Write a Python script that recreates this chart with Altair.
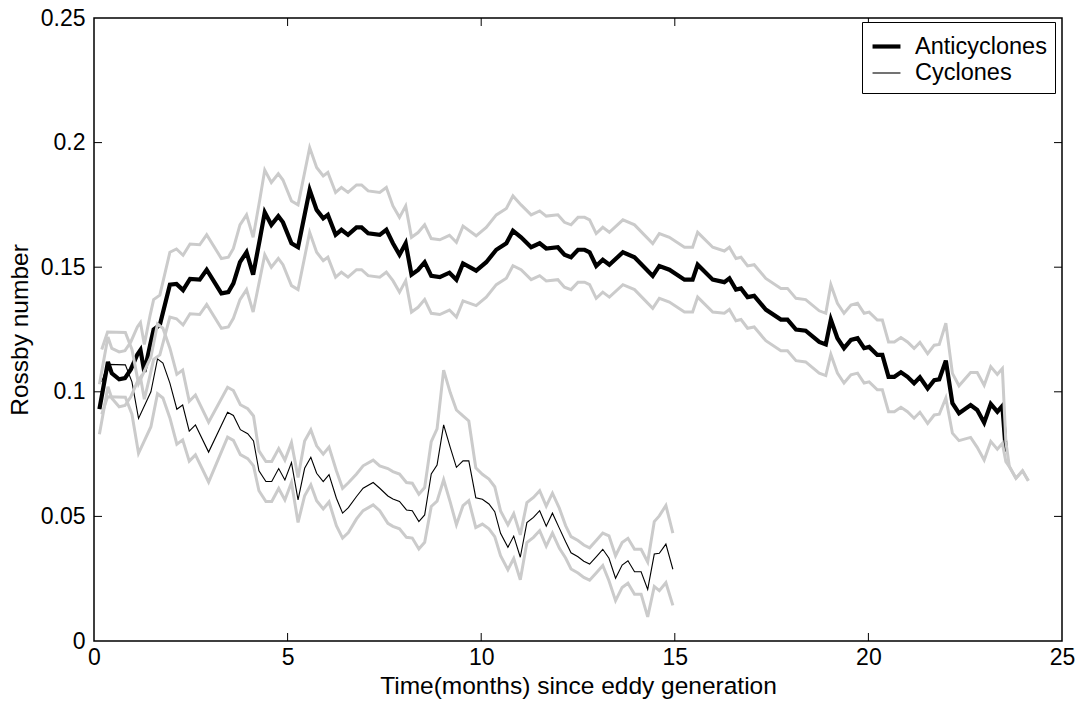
import altair as alt
import pandas as pd

# ---------------- data ----------------
ac_t = [0.14, 0.36, 0.46, 0.65, 0.80, 0.95, 1.12, 1.20, 1.30, 1.45, 1.54, 1.70, 1.96, 2.13, 2.30, 2.48,
        2.73, 2.91, 3.29, 3.47, 3.60, 3.77, 3.94, 4.11, 4.28, 4.41, 4.58, 4.76, 4.88, 5.10, 5.27, 5.57,
        5.75, 5.92, 6.04, 6.24, 6.39, 6.56, 6.78, 6.91, 7.08, 7.38, 7.55, 7.72, 7.89, 8.05, 8.20, 8.37,
        8.54, 8.71, 8.93, 9.18, 9.36, 9.53, 9.87, 10.13, 10.39, 10.65, 10.82, 11.03, 11.29, 11.51, 11.68,
        11.98, 12.15, 12.32, 12.50, 12.67, 12.80, 12.97, 13.14, 13.31, 13.66, 13.96, 14.43, 14.60, 14.86,
        15.25, 15.46, 15.59, 15.98, 16.28, 16.41, 16.58, 16.71, 16.88, 17.05, 17.35, 17.74, 17.91, 18.13,
        18.38, 18.73, 18.90, 19.03, 19.20, 19.37, 19.55, 19.72, 19.89, 20.02, 20.23, 20.36, 20.52, 20.67,
        20.84, 21.01, 21.18, 21.33, 21.53, 21.70, 21.83, 22.00, 22.17, 22.34, 22.64, 22.81, 22.99, 23.16,
        23.33, 23.46, 23.55]
ac_mean = [0.093, 0.112, 0.1074, 0.105, 0.1055, 0.109, 0.115, 0.1168, 0.108, 0.1188, 0.125, 0.1268,
           0.143, 0.1433, 0.1408, 0.1453, 0.145, 0.149, 0.1395, 0.140, 0.1435, 0.152, 0.156, 0.147,
           0.161, 0.172, 0.167, 0.1705, 0.168, 0.1596, 0.158, 0.181, 0.173, 0.1696, 0.171, 0.163,
           0.165, 0.163, 0.166, 0.166, 0.1636, 0.163, 0.165, 0.1596, 0.155, 0.1596, 0.147, 0.1489,
           0.152, 0.1465, 0.146, 0.1478, 0.145, 0.1515, 0.1486, 0.152, 0.157, 0.1596, 0.1646, 0.162,
           0.158, 0.1596, 0.1575, 0.158, 0.155, 0.154, 0.157, 0.157, 0.156, 0.1505, 0.153, 0.151,
           0.156, 0.154, 0.1465, 0.1505, 0.149, 0.145, 0.145, 0.151, 0.145, 0.144, 0.1455, 0.141,
           0.1415, 0.138, 0.1385, 0.133, 0.129, 0.129, 0.125, 0.1245, 0.120, 0.119, 0.129, 0.1215,
           0.1175, 0.1208, 0.1215, 0.1175, 0.118, 0.1148, 0.1148, 0.106, 0.106, 0.1078, 0.106, 0.1034,
           0.1058, 0.1013, 0.1047, 0.105, 0.1125, 0.0954, 0.0914, 0.0947, 0.0927, 0.0876, 0.0951,
           0.092, 0.0943, 0.076]
ac_halfwidth = [0.010, 0.010, 0.010, 0.011, 0.011, 0.011, 0.011, 0.011, 0.011, 0.012, 0.012, 0.012,
                0.013, 0.014, 0.014, 0.014, 0.014, 0.014, 0.014, 0.014, 0.014, 0.015, 0.015, 0.015,
                0.016, 0.017, 0.017, 0.017, 0.017, 0.017, 0.017, 0.017, 0.017, 0.017, 0.017, 0.017,
                0.017, 0.017, 0.017, 0.017, 0.017, 0.017, 0.017, 0.015, 0.015, 0.015, 0.015, 0.015,
                0.015, 0.015, 0.015, 0.015, 0.015, 0.015, 0.014, 0.014, 0.014, 0.014, 0.014, 0.013,
                0.013, 0.013, 0.013, 0.013, 0.013, 0.013, 0.013, 0.013, 0.013, 0.013, 0.013, 0.013,
                0.013, 0.013, 0.013, 0.013, 0.013, 0.013, 0.013, 0.013, 0.013, 0.0125, 0.0125, 0.0125,
                0.0125, 0.0125, 0.0125, 0.0125, 0.0125, 0.0125, 0.0125, 0.0125, 0.0125, 0.0125, 0.014,
                0.014, 0.014, 0.014, 0.014, 0.014, 0.014, 0.014, 0.014, 0.014, 0.014, 0.014, 0.014,
                0.014, 0.014, 0.014, 0.014, 0.014, 0.015, 0.012, 0.011, 0.013, 0.015, 0.015, 0.015,
                0.015, 0.015, 0.004]
# last few samples where only one anticyclone remains (bounds collapse onto each other)
ac_tail_t = [23.64, 23.81, 23.98, 24.13]
ac_tail_v = [0.070, 0.0653, 0.0683, 0.0643]

cy_t = [0.20, 0.35, 0.81, 0.98, 1.15, 1.47, 1.64, 1.78, 1.96, 2.14, 2.29, 2.46, 2.62, 2.96, 3.45, 3.60,
        3.78, 3.97, 4.12, 4.26, 4.44, 4.59, 4.77, 4.93, 5.10, 5.27, 5.44, 5.60, 5.75, 5.92, 6.07, 6.26,
        6.42, 6.57, 6.78, 6.95, 7.21, 7.38, 7.59, 7.72, 7.89, 8.07, 8.22, 8.39, 8.54, 8.71, 8.86, 9.03,
        9.20, 9.36, 9.53, 9.68, 9.86, 10.03, 10.20, 10.35, 10.50, 10.69, 10.84, 11.01, 11.18, 11.35,
        11.51, 11.68, 11.84, 12.02, 12.18, 12.32, 12.50, 12.65, 12.80, 12.97, 13.14, 13.30, 13.47,
        13.64, 13.79, 13.96, 14.13, 14.30, 14.47, 14.60, 14.77, 14.95]
cy_mean = [0.104, 0.111, 0.1108, 0.104, 0.0893, 0.100, 0.1132, 0.1115, 0.1035, 0.093, 0.0947, 0.0842,
           0.0867, 0.0758, 0.0918, 0.0905, 0.0848, 0.0832, 0.0803, 0.0683, 0.064, 0.064, 0.0692,
           0.0646, 0.0716, 0.0566, 0.0693, 0.0737, 0.0673, 0.064, 0.0668, 0.0573, 0.0513, 0.0535,
           0.058, 0.0613, 0.0636, 0.0613, 0.0582, 0.057, 0.056, 0.0526, 0.0523, 0.0479, 0.0506, 0.067,
           0.0706, 0.0867, 0.0777, 0.0697, 0.0723, 0.0723, 0.0575, 0.0569, 0.055, 0.0519, 0.0432,
           0.0376, 0.0421, 0.0336, 0.0475, 0.0496, 0.0523, 0.0461, 0.0513, 0.0452, 0.0398, 0.0354,
           0.0338, 0.032, 0.0309, 0.0338, 0.0368, 0.0332, 0.0252, 0.0305, 0.0322, 0.0278, 0.0278,
           0.0207, 0.0349, 0.0352, 0.0389, 0.0288]
cy_halfwidth = [0.013, 0.013, 0.013, 0.013, 0.014, 0.014, 0.014, 0.014, 0.014, 0.014, 0.014, 0.012,
                0.012, 0.012, 0.010, 0.010, 0.010, 0.010, 0.010, 0.008, 0.008, 0.008, 0.008, 0.008,
                0.008, 0.009, 0.011, 0.011, 0.011, 0.011, 0.011, 0.011, 0.010, 0.010, 0.009, 0.009,
                0.009, 0.009, 0.011, 0.011, 0.011, 0.011, 0.011, 0.011, 0.011, 0.013, 0.0145, 0.022,
                0.022, 0.023, 0.018, 0.016, 0.012, 0.010, 0.010, 0.010, 0.009, 0.009, 0.009, 0.009,
                0.008, 0.008, 0.008, 0.008, 0.008, 0.008, 0.0065, 0.0065, 0.0065, 0.0065, 0.0065,
                0.0065, 0.0065, 0.009, 0.009, 0.009, 0.009, 0.009, 0.009, 0.011, 0.013, 0.015, 0.0155,
                0.0145]

series_names = ["Anticyclones", "Cyclones"]
x_ticks = [5, 10, 15, 20]
y_ticks = [0.05, 0.1, 0.15, 0.2]
x_labels = [0, 5, 10, 15, 20, 25]
y_labels = [0, 0.05, 0.1, 0.15, 0.2, 0.25]

# ---------------- tables ----------------
mean_df = pd.concat([
    pd.DataFrame({"t": ac_t, "v": ac_mean, "series": series_names[0]}),
    pd.DataFrame({"t": cy_t, "v": cy_mean, "series": series_names[1]}),
], ignore_index=True)

band_parts = []
for sid, t, m, h in [("ac", ac_t, ac_mean, ac_halfwidth), ("cy", cy_t, cy_mean, cy_halfwidth)]:
    band_parts.append(pd.DataFrame({"t": t, "v": [a + b for a, b in zip(m, h)], "line": sid + "_up"}))
    band_parts.append(pd.DataFrame({"t": t, "v": [a - b for a, b in zip(m, h)], "line": sid + "_lo"}))
band_parts.append(pd.DataFrame({"t": ac_tail_t, "v": ac_tail_v, "line": "ac_up"}))
band_parts.append(pd.DataFrame({"t": ac_tail_t, "v": ac_tail_v, "line": "ac_lo"}))
band_df = pd.concat(band_parts, ignore_index=True)

W, H = 968, 623
FONT = "Liberation Sans"
xscale = alt.Scale(domain=[0, 25], nice=False, zero=False)
yscale = alt.Scale(domain=[0, 0.25], nice=False, zero=False)

x_axis = alt.Axis(values=x_labels, title="Time(months) since eddy generation",
                  ticks=False, domain=False, grid=False, labelPadding=5, titlePadding=5,
                  labelFontSize=23, titleFontSize=24.5, labelFont=FONT, titleFont=FONT,
                  labelColor="black", titleColor="black", titleFontWeight="normal",
                  labelFlush=False)
y_axis = alt.Axis(values=y_labels, title="Rossby number",
                  ticks=False, domain=False, grid=False, labelPadding=9, titlePadding=8,
                  labelFontSize=23, titleFontSize=24.5, labelFont=FONT, titleFont=FONT,
                  labelColor="black", titleColor="black", titleFontWeight="normal",
                  labelFlush=False, labelExpr="datum.value == 0 ? '0' : format(datum.value, '.2~f')")

X = alt.X("t:Q", scale=xscale, axis=x_axis)
Y = alt.Y("v:Q", scale=yscale, axis=y_axis)

means = alt.Chart(mean_df).mark_line(strokeJoin="miter", strokeCap="butt").encode(
    x=X, y=Y,
    color=alt.Color("series:N", scale=alt.Scale(domain=series_names, range=["black", "black"]),
                    legend=alt.Legend(title=None)),
    strokeWidth=alt.StrokeWidth("series:N", scale=alt.Scale(type="ordinal", domain=series_names, range=[4.2, 1.1]),
                                legend=alt.Legend(title=None)),
)

bands = alt.Chart(band_df).mark_line(color="#cbcbcb", strokeWidth=3, strokeJoin="miter").encode(
    x=X, y=Y, detail="line:N",
)

xt = pd.DataFrame({"t": x_ticks})
yt = pd.DataFrame({"v": y_ticks})
tick_b = alt.Chart(xt).mark_rule(color="black", strokeWidth=1).encode(
    x=X, y=alt.value(H), y2=alt.value(H - 8))
tick_t = alt.Chart(xt).mark_rule(color="black", strokeWidth=1).encode(
    x=X, y=alt.value(0), y2=alt.value(8))
tick_l = alt.Chart(yt).mark_rule(color="black", strokeWidth=1).encode(
    y=Y, x=alt.value(0), x2=alt.value(8))
tick_r = alt.Chart(yt).mark_rule(color="black", strokeWidth=1).encode(
    y=Y, x=alt.value(W), x2=alt.value(W - 8))

chart = alt.layer(means, bands, tick_b, tick_t, tick_l, tick_r).properties(
    width=W, height=H,
    autosize=alt.AutoSizeParams(type="none"),
    padding={"left": 94, "top": 18, "right": 19, "bottom": 68},
    background="white",
).configure_view(
    stroke="black", strokeWidth=1.5
).configure_legend(
    orient="none", legendX=768, legendY=4,
    strokeColor="black", fillColor="white", padding=8, cornerRadius=0,
    symbolType="stroke", symbolSize=780, symbolStrokeColor="black",
    labelFont=FONT, labelFontSize=23.5, labelColor="black", rowPadding=0,
    labelOffset=12, titlePadding=0,
)

chart.save("out.html", embed_options={"renderer": "svg", "actions": False})
